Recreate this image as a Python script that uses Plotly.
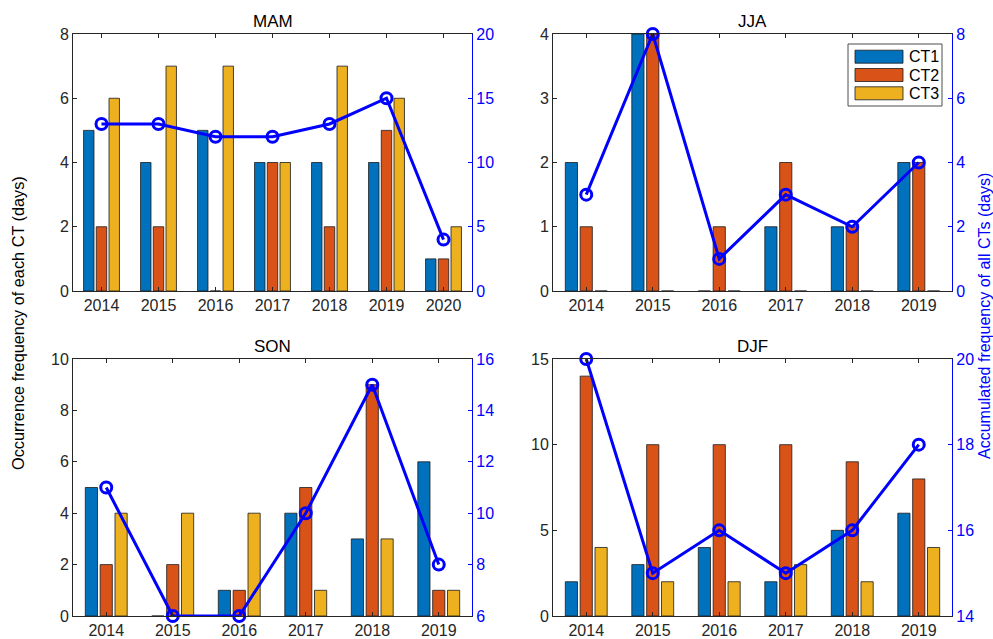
import plotly.graph_objects as go
from plotly.subplots import make_subplots

# ---- data -------------------------------------------------------------
series_names = ["CT1", "CT2", "CT3"]
series_colors = ["#0072BD", "#D95319", "#EDB120"]

mam_years = [2014, 2015, 2016, 2017, 2018, 2019, 2020]
mam_ct1 = [5, 4, 5, 4, 4, 4, 1]
mam_ct2 = [2, 2, 0, 4, 2, 5, 1]
mam_ct3 = [6, 7, 7, 4, 7, 6, 2]
mam_total = [13, 13, 12, 12, 13, 15, 4]

jja_years = [2014, 2015, 2016, 2017, 2018, 2019]
jja_ct1 = [2, 4, 0, 1, 1, 2]
jja_ct2 = [1, 4, 1, 2, 1, 2]
jja_ct3 = [0, 0, 0, 0, 0, 0]
jja_total = [3, 8, 1, 3, 2, 4]

son_years = [2014, 2015, 2016, 2017, 2018, 2019]
son_ct1 = [5, 0, 1, 4, 3, 6]
son_ct2 = [2, 2, 1, 5, 9, 1]
son_ct3 = [4, 4, 4, 1, 3, 1]
son_total = [11, 6, 6, 10, 15, 8]

djf_years = [2014, 2015, 2016, 2017, 2018, 2019]
djf_ct1 = [2, 3, 4, 2, 5, 6]
djf_ct2 = [14, 10, 10, 10, 9, 8]
djf_ct3 = [4, 2, 2, 3, 2, 4]
djf_total = [20, 15, 16, 15, 16, 18]

panels = [
    # title, row, col, years, CT series, total, left range/dtick, right range/dtick
    ("MAM", 1, 1, mam_years, [mam_ct1, mam_ct2, mam_ct3], mam_total, (0, 8), 2, (0, 20), 5),
    ("JJA", 1, 2, jja_years, [jja_ct1, jja_ct2, jja_ct3], jja_total, (0, 4), 1, (0, 8), 2),
    ("SON", 2, 1, son_years, [son_ct1, son_ct2, son_ct3], son_total, (0, 10), 2, (6, 16), 2),
    ("DJF", 2, 2, djf_years, [djf_ct1, djf_ct2, djf_ct3], djf_total, (0, 15), 5, (14, 20), 2),
]

# ---- figure geometry (pixels) ----------------------------------------
W, H = 993, 639
col_px = {1: (73, 472), 2: (553, 952)}
row_px = {1: (34, 291), 2: (359, 616)}

FONT = "Liberation Sans, Arial, Helvetica, sans-serif"
AX_COLOR = "#262626"
BLUE = "#0000FF"

fig = make_subplots(rows=2, cols=2, specs=[[{"secondary_y": True}] * 2] * 2)

for title, r, c, years, cts, total, lrng, ldt, rrng, rdt in panels:
    for name, color, vals in zip(series_names, series_colors, cts):
        fig.add_trace(
            go.Bar(x=years, y=vals, name=name, marker_color=color,
                   marker_line_color="#1a1a1a", marker_line_width=0.8,
                   showlegend=False),
            row=r, col=c, secondary_y=False)
    fig.add_trace(
        go.Scatter(x=years, y=total, mode="lines+markers",
                   line=dict(color=BLUE, width=3),
                   marker=dict(symbol="circle-open", size=11, color=BLUE,
                               line=dict(width=3, color=BLUE)),
                   cliponaxis=False, showlegend=False),
        row=r, col=c, secondary_y=True)

    x0, x1 = col_px[c]
    y0, y1 = row_px[r]
    xdom = [x0 / W, x1 / W]
    ydom = [1 - y1 / H, 1 - y0 / H]

    fig.update_xaxes(domain=xdom, range=[years[0] - 0.5, years[-1] + 0.5],
                     tickvals=years, ticktext=[str(y) for y in years],
                     ticks="inside", ticklen=4, tickcolor=AX_COLOR,
                     showline=True, linecolor=AX_COLOR, linewidth=1,
                     mirror="ticks", showgrid=False, zeroline=False,
                     automargin=False,
                     tickfont=dict(size=16, color=AX_COLOR, family=FONT),
                     row=r, col=c)
    fig.update_yaxes(domain=ydom, range=list(lrng), dtick=ldt, tick0=0,
                     ticks="inside", ticklen=4, tickcolor=AX_COLOR,
                     showline=True, linecolor=AX_COLOR, linewidth=1,
                     mirror=False, showgrid=False, zeroline=False,
                     automargin=False,
                     tickfont=dict(size=16, color=AX_COLOR, family=FONT),
                     row=r, col=c, secondary_y=False)
    fig.update_yaxes(domain=ydom, range=list(rrng), dtick=rdt, tick0=0,
                     ticks="inside", ticklen=4, tickcolor=BLUE,
                     showline=True, linecolor=BLUE, linewidth=1.2,
                     showgrid=False, zeroline=False,
                     automargin=False,
                     tickfont=dict(size=16, color=BLUE, family=FONT),
                     row=r, col=c, secondary_y=True)

    fig.add_annotation(text=title, x=(x0 + x1) / 2 / W, y=1 - (y0 - 13) / H,
                       xref="paper", yref="paper", showarrow=False,
                       xanchor="center", yanchor="middle",
                       font=dict(size=17, color="#000000", family=FONT))

# ---- shared axis titles ----------------------------------------------
fig.add_annotation(text="Occurrence frequency of each CT (days)",
                   x=18 / W, y=1 - 323 / H, xref="paper", yref="paper",
                   showarrow=False, textangle=-90,
                   xanchor="center", yanchor="middle",
                   font=dict(size=16.3, color="#000000", family=FONT))
fig.add_annotation(text="Accumulated frequency of all CTs (days)",
                   x=984 / W, y=1 - 316 / H, xref="paper", yref="paper",
                   showarrow=False, textangle=-90,
                   xanchor="center", yanchor="middle",
                   font=dict(size=16, color=BLUE, family=FONT))

# ---- legend box in the JJA panel -------------------------------------
box = (848, 44, 942, 106)
fig.add_shape(type="rect", xref="paper", yref="paper",
              x0=box[0] / W, x1=box[2] / W, y0=1 - box[3] / H, y1=1 - box[1] / H,
              line=dict(color="#4d4d4d", width=1), fillcolor="white", layer="above")
row_centers = [56.7, 75.0, 93.3]
for name, color, yc in zip(series_names, series_colors, row_centers):
    fig.add_shape(type="rect", xref="paper", yref="paper",
                  x0=855 / W, x1=903 / W, y0=1 - (yc + 6.5) / H, y1=1 - (yc - 6.5) / H,
                  line=dict(color="#1a1a1a", width=0.8), fillcolor=color, layer="above")
    fig.add_annotation(text=name, x=907 / W, y=1 - yc / H, xref="paper", yref="paper",
                       showarrow=False, xanchor="left", yanchor="middle",
                       font=dict(size=16, color="#000000", family=FONT))

fig.update_layout(
    width=W, height=H, autosize=False,
    margin=dict(l=0, r=0, t=0, b=0, autoexpand=False),
    paper_bgcolor="white", plot_bgcolor="white",
    barmode="group", bargap=0.33, bargroupgap=0.18,
    showlegend=False,
    font=dict(family=FONT, color=AX_COLOR),
)

fig.write_html("out.html")
